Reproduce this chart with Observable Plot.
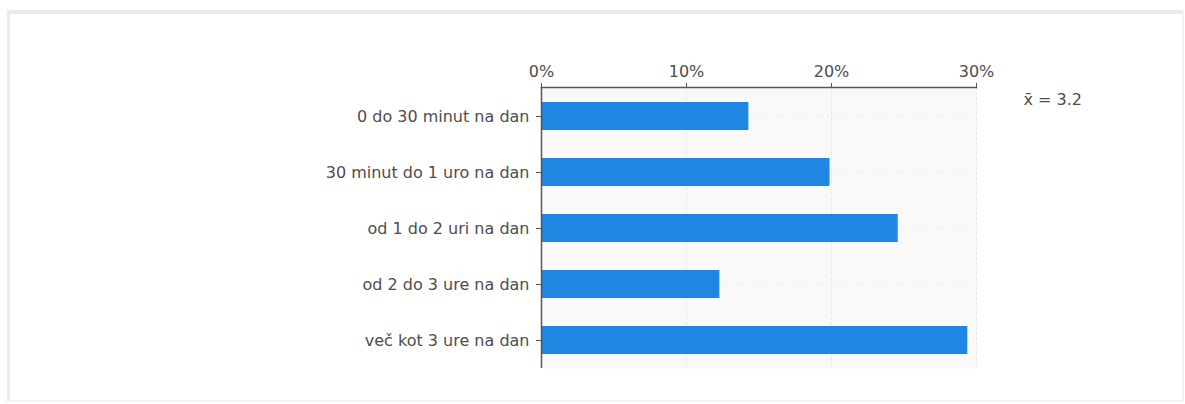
<!DOCTYPE html>
<html>
<head>
<meta charset="utf-8">
<script src="https://cdn.jsdelivr.net/npm/d3@7"></script>
<script src="https://cdn.jsdelivr.net/npm/@observablehq/plot@0.6"></script>
<style>
  html, body { margin: 0; padding: 0; background: #fff; }
  #wrap { position: relative; width: 1185px; height: 404px; overflow: hidden; }
  #frame { position: absolute; left: 7px; top: 10px; width: 1172px; height: 386px;
           border-top: 4px solid #e9e9e9; border-left: 3px solid #ececec;
           border-right: 2px solid #f3f3f3; border-bottom: 2px solid #f5f5f5; }
  #chart { position: absolute; left: 0; top: 0; }
</style>
</head>
<body>
<div id="wrap"><div id="frame"></div><div id="chart"></div></div>
<script>
const categories = [
  "0 do 30 minut na dan",
  "30 minut do 1 uro na dan",
  "od 1 do 2 uri na dan",
  "od 2 do 3 ure na dan",
  "več kot 3 ure na dan"
];
const percents = [14.3, 19.9, 24.6, 12.3, 29.4];
const xTicks = [0, 10, 20, 30];
const meanLabel = "x\u0304 = 3.2";

const data = categories.map((c, i) => ({category: c, value: percents[i]}));
const font = "DejaVu Sans, sans-serif";

const chart = Plot.plot({
  width: 1185,
  height: 404,
  marginTop: 87,
  marginBottom: 36,
  marginLeft: 541,
  marginRight: 209,
  style: {fontFamily: font, fontSize: "16px", color: "#4d4d4d", background: "transparent"},
  x: {domain: [0, 30], range: [541, 976]},
  y: {domain: categories, paddingInner: 0.5, paddingOuter: 0.25},
  marks: [
    Plot.frame({fill: "#f9f9f9", stroke: "none"}),
    Plot.gridX(xTicks.slice(1), {stroke: "#e8e8e8", strokeOpacity: 1, strokeDasharray: "3,2"}),
    Plot.gridY({stroke: "#efefef", strokeOpacity: 1, strokeDasharray: "3,2"}),
    Plot.barX(data, {y: "category", x: "value", fill: "#1f86e2"}),
    Plot.frame({anchor: "top", stroke: "#555", strokeWidth: 1.5}),
    Plot.ruleX([0], {stroke: "#555", strokeWidth: 1.5, y1: null, y2: null}),
    Plot.axisX({anchor: "top", ticks: xTicks, tickFormat: d => d + "%", tickSize: 5, tickPadding: 6, label: null, stroke: "#555", fill: "#4d4d4d", fontSize: 16}),
    Plot.axisY({anchor: "left", tickSize: 5, tickPadding: 7, label: null, stroke: "#555", fill: "#4d4d4d", fontSize: 16}),
    Plot.text([meanLabel], {frameAnchor: "top-right", dx: 47, dy: 6, textAnchor: "start", fill: "#4d4d4d", fontSize: 16})
  ]
});
document.getElementById("chart").appendChild(chart);
</script>
</body>
</html>
